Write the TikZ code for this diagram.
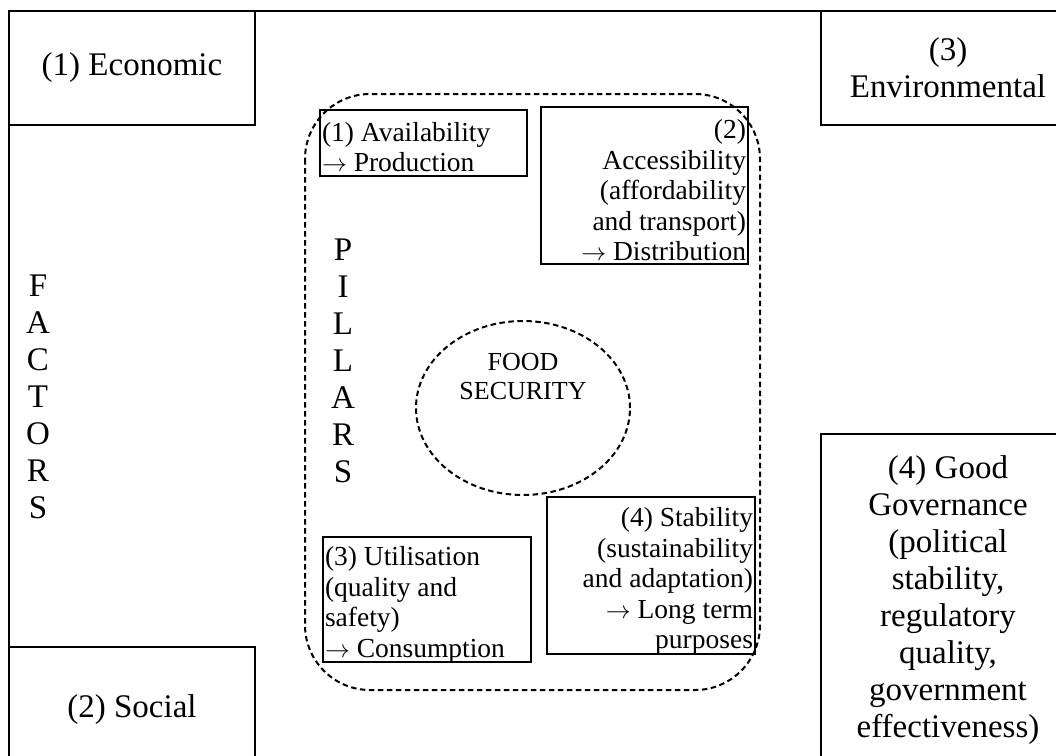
\documentclass[tikz,border=0pt]{standalone}
\usepackage{fontspec}
\setmainfont{Liberation Serif}
\usetikzlibrary{shapes.geometric}

\newcommand{\goesto}{\ensuremath{\rightarrow}}

\tikzset{
  factorbox/.style={draw, line width=2.6pt, inner sep=0pt, align=center,
    font=\fontsize{33}{37}\selectfont},
  pillarbox/.style={draw, line width=2.2pt, inner sep=0pt},
  pillartext/.style={inner sep=1pt, font=\fontsize{27.5}{30.5}\selectfont},
  dashline/.style={draw, line width=2pt, dash pattern=on 5.5pt off 3.5pt},
  lettercol/.style={align=center, inner sep=0pt, font=\fontsize{33}{37}\selectfont}
}

\begin{document}
\begin{tikzpicture}[x=1pt,y=-1pt]
  \clip (0,0) rectangle (1056,755);
  \useasboundingbox (0,0) rectangle (1056,755);

  % outer frame of the factors
  \draw[line width=2.6pt] (9,11) rectangle (1075,772);

  % the four factors in the corners
  \node[factorbox, minimum width=246, minimum height=114] (econ) at (132,68) {(1) Economic};
  \node[factorbox, minimum width=254, minimum height=114] (env) at (948,68) {(3)\\Environmental};
  \node[factorbox, minimum width=246, minimum height=125] (social) at (132,709.5) {(2) Social};
  \node[factorbox, minimum width=254, minimum height=332] (gov) at (948,600)
    {(4) Good\\Governance\\(political\\stability,\\regulatory\\quality,\\government\\effectiveness)};

  % vertical side label
  \node[lettercol] (factors) at (38,397) {F\\A\\C\\T\\O\\R\\S};

  % dashed envelope of the pillars
  \draw[dashline, rounded corners=65pt] (305,94) rectangle (760,690);
  \node[lettercol] (pillars) at (343,361) {P\\I\\L\\L\\A\\R\\S};

  % the core
  \node[dashline, ellipse, minimum width=214, minimum height=174] (core) at (523,408) {};
  \node[align=center, inner sep=0pt, font=\fontsize{26}{29}\selectfont]
    (coretext) at (523,377) {FOOD\\SECURITY};

  % the four pillars: frames, then their texts
  \node[pillarbox, minimum width=207, minimum height=66] (availbox) at (423.5,143) {};
  \node[pillartext, text width=203, align=flush left] (avail) at (423.5,147)
    {(1) Availability\\\goesto{} Production};

  \node[pillarbox, minimum width=207, minimum height=157] (accessbox) at (644.5,185.5) {};
  \node[pillartext, text width=203, align=flush right] (access) at (644.5,190.5)
    {(2)\\Accessibility\\(affordability\\and transport)\\\goesto{} Distribution};

  \node[pillarbox, minimum width=208, minimum height=125] (utilbox) at (427,599.5) {};
  \node[pillartext, text width=204, align=flush left] (util) at (427,605)
    {(3) Utilisation\\(quality and\\safety)\\\goesto{} Consumption};

  \node[pillarbox, minimum width=208, minimum height=157] (stabbox) at (651,575.5) {};
  \node[pillartext, text width=204, align=flush right] (stab) at (651,581)
    {(4) Stability\\(sustainability\\and adaptation)\\\goesto{} Long term\\purposes};
\end{tikzpicture}
\end{document}
